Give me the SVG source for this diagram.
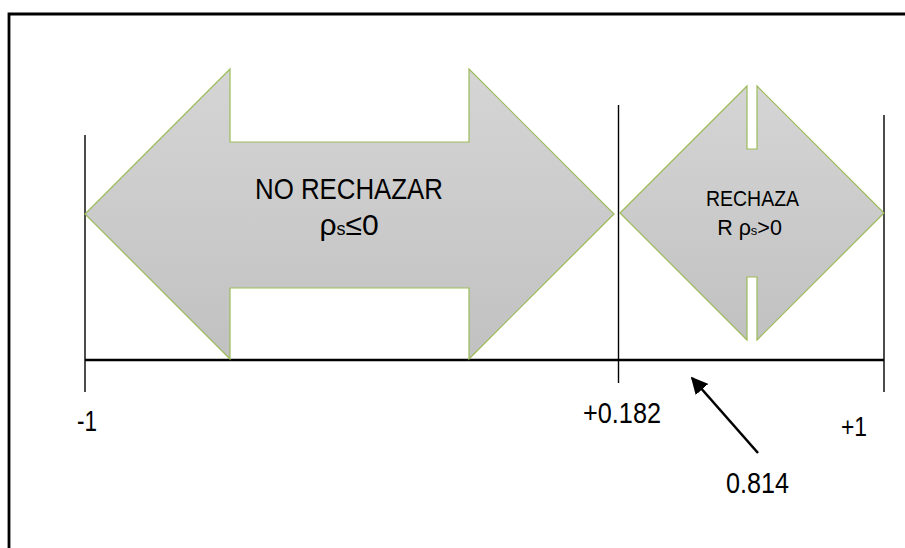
<svg xmlns="http://www.w3.org/2000/svg" width="905" height="548" viewBox="0 0 905 548">
  <style>
    .shape { fill: url(#grayFill); stroke: #9bbb59; stroke-width: 1.2; stroke-linejoin: miter; }
    .tick { stroke: #000; stroke-width: 1.4; fill: none; }
    .axis { stroke: #000; stroke-width: 2.6; fill: none; }
    .lbl { font-family: "Liberation Sans", Arial, sans-serif; fill: #000; }
  </style>
  <defs>
    <linearGradient id="grayFill" x1="0" y1="0" x2="0" y2="1">
      <stop offset="0" stop-color="#d5d5d5"/>
      <stop offset="1" stop-color="#c1c1c1"/>
    </linearGradient>
    <marker id="head" viewBox="0 0 10 10" refX="9" refY="5" markerWidth="6.5" markerHeight="6.5" orient="auto" markerUnits="strokeWidth">
      <path d="M0,0 L10,5 L0,10 z" fill="#000"/>
    </marker>
  </defs>

  <rect width="905" height="548" fill="#fff"/>
  <!-- outer frame (open to the right and bottom) -->
  <path d="M9,548 V14 H905" fill="none" stroke="#000" stroke-width="2.8"/>

  <!-- scale: ticks and axis -->
  <g id="scale">
    <line class="tick" x1="85" y1="135" x2="85" y2="392"/>
    <line class="tick" x1="618.5" y1="105" x2="618.5" y2="383"/>
    <line class="tick" x1="884" y1="115" x2="884" y2="392"/>
    <line class="axis" x1="85" y1="360" x2="884" y2="360"/>
  </g>

  <g id="no-rechazar">
    <polygon class="shape" points="85,214 230,69 230,142 469,142 469,69 614,214 469,359 469,288 230,288 230,359"/>
    <text class="lbl" x="349" y="199" font-size="30" text-anchor="middle" textLength="188" lengthAdjust="spacingAndGlyphs">NO RECHAZAR</text>
    <text class="lbl" x="349" y="235" font-size="30" text-anchor="middle">ρ<tspan font-size="18">s</tspan>≤0</text>
  </g>

  <g id="rechaza">
    <polygon class="shape" points="620,213 747,86 747,149 757,149 757,86 884,213 757,340 757,277 747,277 747,340"/>
    <text class="lbl" x="752.5" y="206" font-size="21.5" text-anchor="middle" textLength="93" lengthAdjust="spacingAndGlyphs">RECHAZA</text>
    <text class="lbl" x="749.5" y="235" font-size="21.5" text-anchor="middle">R ρ<tspan font-size="13">s</tspan>&gt;0</text>
  </g>

  <!-- scale labels -->
  <g id="labels">
    <text class="lbl" x="77" y="431" font-size="30" textLength="20" lengthAdjust="spacingAndGlyphs">-1</text>
    <text class="lbl" x="583" y="423" font-size="29.5" textLength="78" lengthAdjust="spacingAndGlyphs">+0.182</text>
    <text class="lbl" x="841" y="436" font-size="27" textLength="26" lengthAdjust="spacingAndGlyphs">+1</text>
    <text class="lbl" x="726" y="493" font-size="29.5" textLength="63" lengthAdjust="spacingAndGlyphs">0.814</text>
  </g>

  <!-- pointer to the observed value -->
  <g id="connectors">
    <line x1="758" y1="453" x2="692" y2="378" stroke="#000" stroke-width="2.6" marker-end="url(#head)"/>
  </g>
</svg>
